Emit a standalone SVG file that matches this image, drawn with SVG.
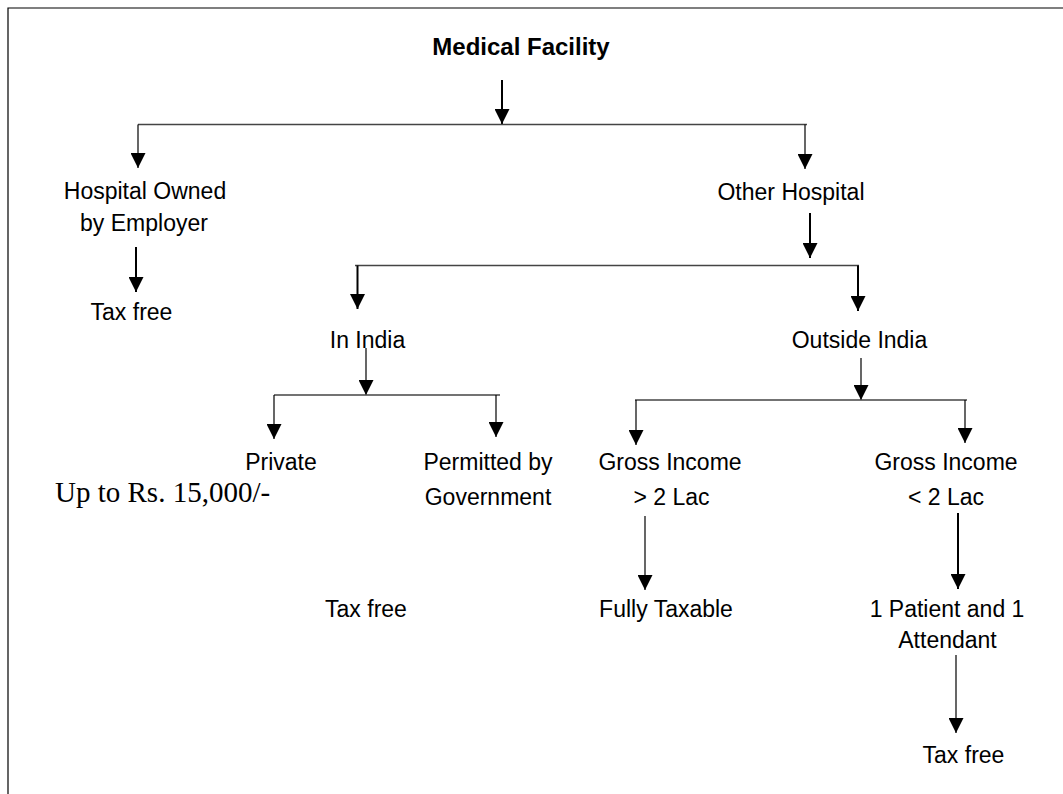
<svg xmlns="http://www.w3.org/2000/svg" width="1063" height="794" viewBox="0 0 1063 794">
<defs>
<style>
text{font-family:"Liberation Sans",Arial,sans-serif;font-size:23px;fill:#000;text-anchor:middle}
.b{font-weight:bold;font-size:24px}
.serif{font-family:"Liberation Serif","Times New Roman",serif;font-size:29px;text-anchor:start}
.thick{stroke:#000;stroke-width:2;fill:none;marker-end:url(#ah)}
.thin{stroke:#000;stroke-width:1.2;fill:none;marker-end:url(#ah)}
.bar{stroke:#444;stroke-width:1.5;fill:none}
.frame{stroke:#000;stroke-width:1.2;fill:none}
</style>
<marker id="ah" markerUnits="userSpaceOnUse" markerWidth="15" markerHeight="15" viewBox="0 0 15 15" refX="15" refY="7.5" orient="auto">
<path d="M0,0 L15,7.5 L0,15 z" fill="#000"/>
</marker>
</defs>
<rect width="1063" height="794" fill="#fff"/>
<path class="frame" d="M8,794 L8,8 L1063,8"/>
<g id="connectors">
<line class="thick" x1="502" y1="80" x2="502" y2="124"/>
<line class="bar" x1="138" y1="124.5" x2="807" y2="124.5"/>
<line class="thin" x1="138" y1="124.5" x2="138" y2="168"/>
<line class="thin" x1="805" y1="124.5" x2="805" y2="169"/>
<line class="thick" x1="136" y1="247" x2="136" y2="292"/>
<line class="thick" x1="810" y1="213" x2="810" y2="258"/>
<line class="bar" x1="355" y1="265.5" x2="859" y2="265.5"/>
<line class="thick" x1="357.5" y1="265.5" x2="357.5" y2="309"/>
<line class="thick" x1="858" y1="265.5" x2="858" y2="311"/>
<line class="thin" x1="366" y1="348" x2="366" y2="395"/>
<line class="bar" x1="274" y1="395" x2="500" y2="395"/>
<line class="thin" x1="274" y1="395" x2="274" y2="439"/>
<line class="thin" x1="496" y1="395" x2="496" y2="437"/>
<line class="thin" x1="861" y1="358" x2="861" y2="400"/>
<line class="bar" x1="635" y1="400" x2="967" y2="400"/>
<line class="thin" x1="636" y1="400" x2="636" y2="445"/>
<line class="thin" x1="965" y1="400" x2="965" y2="443"/>
<line class="thin" x1="645" y1="516" x2="645" y2="590"/>
<line class="thick" x1="958" y1="513" x2="958" y2="589"/>
<line class="thin" x1="956" y1="655" x2="956" y2="733"/>
</g>
<g id="medical-facility"><text class="b" x="521" y="55">Medical Facility</text></g>
<g id="hospital-owned"><text x="145" y="199">Hospital Owned</text><text x="144" y="231">by Employer</text></g>
<g id="tax-free-1"><text x="131.5" y="320">Tax free</text></g>
<g id="other-hospital"><text x="791" y="200">Other Hospital</text></g>
<g id="in-india"><text x="367.5" y="348">In India</text></g>
<g id="outside-india"><text x="859.5" y="348">Outside India</text></g>
<g id="private"><text x="281" y="470">Private</text></g>
<g id="limit"><text class="serif" x="55" y="502">Up to Rs. 15,000/-</text></g>
<g id="permitted"><text x="488" y="470">Permitted by</text><text x="488" y="505">Government</text></g>
<g id="gross-high"><text x="670" y="470">Gross Income</text><text x="671.5" y="505">&gt; 2 Lac</text></g>
<g id="gross-low"><text x="946" y="470">Gross Income</text><text x="946" y="505">&lt; 2 Lac</text></g>
<g id="tax-free-2"><text x="366" y="617">Tax free</text></g>
<g id="fully-taxable"><text x="666" y="617">Fully Taxable</text></g>
<g id="patient"><text x="947" y="617">1 Patient and 1</text><text x="947.5" y="648">Attendant</text></g>
<g id="tax-free-3"><text x="963.5" y="763">Tax free</text></g>
</svg>
